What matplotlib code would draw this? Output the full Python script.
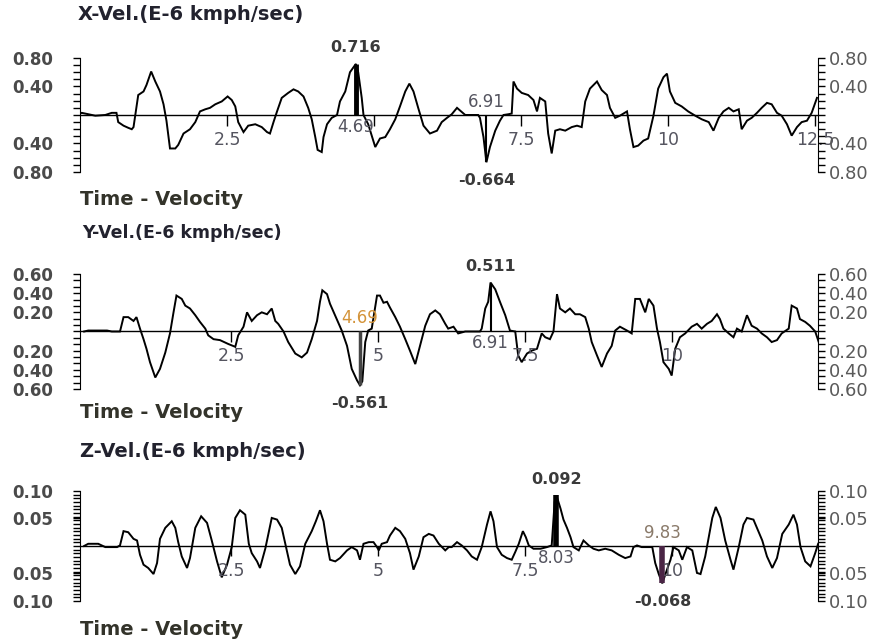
import numpy as np
import matplotlib.pyplot as plt

# ---- X velocity (time in s, value in E-6 kmph/sec) ----
x_t = [0.0, 0.03, 0.26, 0.43, 0.54, 0.62, 0.65, 0.74, 0.82, 0.88,
       0.91, 0.94, 0.99, 1.08, 1.13, 1.21, 1.28, 1.36, 1.42, 1.47,
       1.53, 1.62, 1.67, 1.76, 1.87, 1.96, 2.04, 2.13, 2.21, 2.30,
       2.41, 2.51, 2.58, 2.64, 2.69, 2.78, 2.86, 2.98, 3.09, 3.18,
       3.23, 3.29, 3.35, 3.43, 3.54, 3.63, 3.71, 3.80, 3.88, 3.94,
       4.00, 4.04, 4.11, 4.14, 4.20, 4.28, 4.37, 4.42, 4.51, 4.59,
       4.69, 4.73, 4.79, 4.82, 4.90, 5.02, 5.10, 5.19, 5.27, 5.36,
       5.44, 5.53, 5.60, 5.67, 5.75, 5.84, 5.95, 6.07, 6.15, 6.24,
       6.32, 6.41, 6.55, 6.77, 6.80, 6.86, 6.91, 6.97, 7.06, 7.14,
       7.20, 7.28, 7.34, 7.37, 7.43, 7.51, 7.62, 7.71, 7.77, 7.82,
       7.91, 7.96, 8.02, 8.08, 8.16, 8.25, 8.36, 8.45, 8.53, 8.59,
       8.67, 8.79, 8.87, 8.96, 9.01, 9.10, 9.18, 9.30, 9.35, 9.41,
       9.49, 9.58, 9.66, 9.75, 9.83, 9.92, 9.98, 10.03, 10.12, 10.23,
       10.34, 10.46, 10.57, 10.69, 10.77, 10.86, 10.94, 11.03, 11.11, 11.20,
       11.25, 11.34, 11.42, 11.51, 11.59, 11.68, 11.76, 11.85, 11.93, 12.02,
       12.10, 12.19, 12.27, 12.36, 12.44, 12.53]
x_v = [0.02, 0.03, -0.01, 0.0, 0.03, 0.03, -0.10, -0.15, -0.18, -0.20,
       -0.17, 0.0, 0.28, 0.33, 0.42, 0.61, 0.47, 0.33, 0.15, -0.08,
       -0.47, -0.47, -0.42, -0.26, -0.20, -0.10, 0.05, 0.08, 0.10, 0.15,
       0.19, 0.26, 0.21, 0.12, -0.10, -0.24, -0.15, -0.13, -0.17, -0.24,
       -0.26, -0.10, 0.05, 0.24, 0.31, 0.36, 0.33, 0.26, 0.10, -0.06,
       -0.31, -0.49, -0.52, -0.31, -0.13, -0.04, 0.0, 0.19, 0.33, 0.60,
       0.716, 0.60, 0.24, 0.0, -0.13, -0.45, -0.33, -0.31, -0.20, -0.06,
       0.12, 0.33, 0.44, 0.33, 0.10, -0.15, -0.26, -0.22, -0.10, -0.04,
       0.01, 0.10, 0.0, 0.0, -0.04, -0.31, -0.664, -0.45, -0.22, -0.08,
       0.0, 0.01, 0.02, 0.47, 0.37, 0.31, 0.28, 0.21, 0.05, 0.24,
       0.19, -0.26, -0.54, -0.22, -0.20, -0.22, -0.17, -0.15, -0.17, 0.19,
       0.37, 0.47, 0.35, 0.28, 0.10, -0.04, -0.01, 0.05, -0.20, -0.45,
       -0.43, -0.36, -0.33, -0.01, 0.37, 0.53, 0.58, 0.33, 0.17, 0.12,
       0.05, -0.01, -0.06, -0.10, -0.22, -0.04, 0.05, 0.10, 0.05, 0.08,
       -0.20, -0.08, -0.04, 0.03, 0.10, 0.17, 0.15, 0.03, -0.01, -0.13,
       -0.29, -0.17, -0.10, -0.08, 0.03, 0.24]

# ---- Y velocity ----
y_t = [0.0, 0.07, 0.19, 0.39, 0.47, 0.61, 0.67, 0.75, 0.84, 0.89,
       0.95, 1.01, 1.06, 1.12, 1.21, 1.29, 1.38, 1.46, 1.52, 1.57,
       1.66, 1.72, 1.80, 1.89, 1.97, 2.06, 2.11, 2.20, 2.31, 2.45,
       2.57, 2.62, 2.71, 2.77, 2.85, 2.94, 3.02, 3.11, 3.19, 3.25,
       3.30, 3.39, 3.47, 3.59, 3.70, 3.79, 3.87, 3.96, 4.01, 4.05,
       4.13, 4.18, 4.38, 4.47, 4.55, 4.64, 4.69, 4.73, 4.78, 4.83,
       4.89, 4.98, 5.03, 5.09, 5.15, 5.20, 5.29, 5.37, 5.46, 5.54,
       5.63, 5.71, 5.80, 5.88, 5.97, 6.05, 6.14, 6.19, 6.28, 6.36,
       6.48, 6.73, 6.76, 6.82, 6.87, 6.91, 6.99, 7.07, 7.16, 7.24,
       7.33, 7.38, 7.44, 7.53, 7.61, 7.70, 7.78, 7.84, 7.92, 7.98,
       8.04, 8.09, 8.18, 8.26, 8.35, 8.43, 8.52, 8.58, 8.63, 8.72,
       8.80, 8.89, 8.97, 9.03, 9.11, 9.23, 9.31, 9.37, 9.45, 9.54,
       9.60, 9.68, 9.74, 9.79, 9.85, 9.94, 9.99, 10.05, 10.13, 10.22,
       10.33, 10.42, 10.50, 10.59, 10.67, 10.76, 10.81, 10.87, 10.96, 11.04,
       11.10, 11.18, 11.27, 11.35, 11.44, 11.52, 11.61, 11.69, 11.78, 11.86,
       11.98, 12.03, 12.12, 12.17, 12.26, 12.34, 12.43, 12.49]
y_v = [0.0, 0.01, 0.01, 0.01, 0.0, 0.0, 0.15, 0.15, 0.11, 0.15,
       0.03, -0.08, -0.18, -0.32, -0.48, -0.39, -0.22, -0.02, 0.20, 0.375,
       0.34, 0.27, 0.24, 0.17, 0.10, 0.03, -0.04, -0.08, -0.09, -0.13,
       -0.16, -0.04, 0.05, 0.20, 0.11, 0.17, 0.20, 0.18, 0.24, 0.11,
       0.08, 0.0, -0.11, -0.23, -0.27, -0.22, -0.08, 0.11, 0.31, 0.43,
       0.39, 0.29, 0.01, -0.15, -0.39, -0.51, -0.561, -0.52, -0.11, 0.01,
       0.03, 0.375, 0.375, 0.30, 0.31, 0.25, 0.15, 0.05, -0.08, -0.20,
       -0.34, -0.15, 0.06, 0.18, 0.22, 0.18, 0.08, 0.03, 0.05, -0.02,
       0.0, 0.0, 0.03, 0.24, 0.31, 0.511, 0.44, 0.31, 0.17, 0.01,
       0.0, -0.25, -0.32, -0.23, -0.20, -0.18, -0.02, -0.06, -0.08, 0.0,
       0.39, 0.24, 0.20, 0.24, 0.18, 0.18, 0.15, 0.03, -0.11, -0.25,
       -0.37, -0.23, -0.15, 0.01, 0.05, 0.01, -0.02, 0.34, 0.34, 0.20,
       0.34, 0.27, 0.03, -0.11, -0.32, -0.39, -0.46, -0.18, -0.06, -0.02,
       0.05, 0.08, 0.03, 0.08, 0.11, 0.18, 0.13, 0.03, -0.02, -0.06,
       0.03, 0.0, 0.17, 0.06, 0.03, -0.02, -0.06, -0.11, -0.09, -0.02,
       0.03, 0.27, 0.24, 0.13, 0.10, 0.06, 0.0, -0.11]

# ---- Z velocity ----
z_t = [0.0, 0.07, 0.24, 0.36, 0.56, 0.61, 0.67, 0.75, 0.84, 0.90,
       0.95, 1.01, 1.09, 1.18, 1.24, 1.29, 1.38, 1.49, 1.55, 1.60,
       1.66, 1.75, 1.80, 1.89, 1.99, 2.09, 2.17, 2.26, 2.34, 2.43,
       2.51, 2.57, 2.65, 2.74, 2.80, 2.85, 2.94, 2.99, 3.08, 3.19,
       3.28, 3.36, 3.42, 3.50, 3.59, 3.67, 3.76, 3.87, 3.94, 4.01,
       4.07, 4.13, 4.18, 4.27, 4.35, 4.47, 4.55, 4.64, 4.69, 4.75,
       4.84, 4.92, 4.98, 5.01, 5.06, 5.15, 5.20, 5.29, 5.37, 5.46,
       5.54, 5.60, 5.69, 5.77, 5.86, 5.94, 6.03, 6.14, 6.20, 6.25,
       6.34, 6.42, 6.51, 6.59, 6.68, 6.76, 6.85, 6.91, 6.96, 7.02,
       7.10, 7.19, 7.27, 7.33, 7.39, 7.46, 7.51, 7.56, 7.64, 7.76,
       7.87, 7.95, 8.00, 8.03, 8.10, 8.15, 8.21, 8.27, 8.32, 8.41,
       8.49, 8.58, 8.66, 8.75, 8.86, 8.97, 9.09, 9.20, 9.29, 9.34,
       9.40, 9.48, 9.66, 9.71, 9.77, 9.83, 9.91, 9.97, 10.02, 10.11,
       10.17, 10.25, 10.34, 10.42, 10.48, 10.56, 10.62, 10.68, 10.74, 10.82,
       10.90, 10.99, 11.04, 11.13, 11.21, 11.27, 11.38, 11.44, 11.53, 11.61,
       11.70, 11.78, 11.87, 11.98, 12.06, 12.12, 12.18, 12.26, 12.35, 12.43,
       12.48]
z_v = [0.0, 0.004, 0.004, -0.002, -0.002, 0.001, 0.027, 0.025, 0.013, 0.01,
       -0.016, -0.034, -0.04, -0.051, -0.031, 0.013, 0.033, 0.045, 0.033, 0.007,
       -0.019, -0.04, -0.022, 0.033, 0.054, 0.042, 0.01, -0.028, -0.057, -0.034,
       -0.002, 0.051, 0.065, 0.057, 0.004, -0.013, -0.028, -0.04, -0.005, 0.051,
       0.048, 0.033, 0.004, -0.034, -0.051, -0.037, 0.004, 0.027, 0.045, 0.065,
       0.045, 0.004, -0.025, -0.028, -0.022, -0.008, -0.002, -0.008, -0.025, 0.004,
       0.007, 0.007, -0.002, -0.008, 0.004, 0.007, 0.019, 0.033, 0.027, 0.013,
       -0.013, -0.043, -0.019, 0.016, 0.022, 0.019, 0.004, -0.008, -0.002, -0.002,
       0.007, 0.001, -0.008, -0.019, -0.025, -0.002, 0.039, 0.063, 0.045, -0.002,
       -0.016, -0.022, -0.025, -0.011, 0.004, 0.027, 0.016, 0.001, -0.005, -0.005,
       -0.002, 0.001, 0.08, 0.092, 0.068, 0.048, 0.033, 0.016, -0.002, -0.008,
       0.01, 0.001, -0.005, -0.008, -0.005, -0.008, -0.016, -0.022, -0.019, -0.002,
       0.001, -0.002, -0.002, -0.031, -0.051, -0.068, -0.043, -0.025, -0.002, -0.008,
       -0.025, -0.002, -0.008, -0.049, -0.051, -0.019, 0.016, 0.051, 0.071, 0.051,
       0.01, -0.025, -0.043, -0.002, 0.039, 0.051, 0.048, 0.033, 0.01, -0.019,
       -0.04, -0.022, 0.022, 0.039, 0.057, 0.039, -0.002, -0.028, -0.037, -0.013,
       0.004]

time_ticks = [2.5, 5, 7.5, 10, 12.5]
x_time_labels = ["2.5", "", "7.5", "10", "12.5"]   # the 5 is hidden under the curve
yz_time_labels = ["2.5", "5", "7.5", "10", "12.5"]

x_yticks = [0.8, 0.4, -0.4, -0.8]
x_ylabels = ["0.80", "0.40", "0.40", "0.80"]
y_yticks = [0.6, 0.4, 0.2, -0.2, -0.4, -0.6]
y_ylabels = ["0.60", "0.40", "0.20", "0.20", "0.40", "0.60"]
z_yticks = [0.1, 0.05, -0.05, -0.1]
z_ylabels = ["0.10", "0.05", "0.05", "0.10"]

# (time, value) of max and min
x_max, x_min = (4.69, 0.716), (6.91, -0.664)
y_max, y_min = (6.91, 0.511), (4.69, -0.561)
z_max, z_min = (8.03, 0.092), (9.83, -0.068)

GREY = "#555560"

fig = plt.figure(figsize=(8.84, 6.42), dpi=100)


def panel(rect, t, v, lim, minor, yticks, ylabels, xlim, tlabels,
          vmax, vmin, wmax, wmin, cmin="black", tcol_min=GREY, tcol_max=GREY):
    ax = fig.add_axes(rect)
    ax.plot(t, v, color="black", lw=1.4, solid_joinstyle="miter")
    ax.axhline(0, color="black", lw=1.0)
    ax.set_xlim(xlim)
    ax.set_ylim(-lim, lim)

    # extreme value bars
    ax.vlines(vmax[0], 0, vmax[1], color="black", lw=wmax)
    ax.vlines(vmin[0], 0, vmin[1], color=cmin, lw=wmin)

    # time ticks drawn on the zero line
    for tt, lb in zip(time_ticks, tlabels):
        ax.vlines(tt, -lim * 0.19, 0, color="black", lw=1.0)
        ax.annotate(lb, (tt, 0), xytext=(0, -25), textcoords="offset pixels",
                    ha="center", va="center", fontsize=12.5, color=GREY)

    # labels of max / min
    ax.annotate("%.3f" % vmax[1], vmax, xytext=(0, 16), textcoords="offset pixels",
                ha="center", va="center", fontsize=11.5, fontweight="bold",
                color="#3a3a3a", annotation_clip=False)
    ax.annotate("%.3f" % vmin[1], vmin, xytext=(0, -18), textcoords="offset pixels",
                ha="center", va="center", fontsize=11.5, fontweight="bold",
                color="#3a3a3a", annotation_clip=False)
    ax.annotate("%.2f" % vmax[0], (vmax[0], 0), xytext=(0, -12), textcoords="offset pixels",
                ha="center", va="center", fontsize=12, color=tcol_max)
    ax.annotate("%.2f" % vmin[0], (vmin[0], 0), xytext=(0, 13), textcoords="offset pixels",
                ha="center", va="center", fontsize=12, color=tcol_min)

    ax.set_xticks([])
    ax.spines["top"].set_visible(False)
    ax.spines["bottom"].set_visible(False)
    ax.spines["right"].set_visible(False)
    ax.spines["left"].set_bounds(-lim, lim)
    ax.set_yticks(yticks)
    ax.set_yticklabels(ylabels)
    ax.set_yticks(np.arange(-lim, lim + minor / 2, minor), minor=True)
    ax.tick_params(axis="y", which="both", direction="out", length=5, width=1,
                   pad=14, labelsize=12, labelcolor="#4a4a4a")
    for lb in ax.get_yticklabels():
        lb.set_fontweight("bold")

    ax2 = ax.twinx()
    ax2.set_ylim(-lim, lim)
    for s in ["top", "bottom", "left"]:
        ax2.spines[s].set_visible(False)
    ax2.spines["right"].set_bounds(-lim, lim)
    ax2.set_yticks(yticks)
    ax2.set_yticklabels(ylabels)
    ax2.set_yticks(np.arange(-lim, lim + minor / 2, minor), minor=True)
    ax2.tick_params(axis="y", which="both", direction="out", length=5, width=1,
                    pad=3, labelsize=13, labelcolor="#5a5a5a")
    return ax


panel([0.0905, 0.7321, 0.835, 0.1776], x_t, x_v, 0.8, 0.1, x_yticks, x_ylabels,
      (0, 12.55), x_time_labels, x_max, x_min, 3.5, 1.5)
panel([0.0905, 0.3941, 0.835, 0.1791], y_t, y_v, 0.6, 0.2 / 3, y_yticks, y_ylabels,
      (-0.07, 12.48), yz_time_labels, y_max, y_min, 1.5, 2.5, cmin="#444444",
      tcol_min="#d4943a")
panel([0.0905, 0.0639, 0.835, 0.1713], z_t, z_v, 0.1, 0.1 / 15, z_yticks, z_ylabels,
      (-0.07, 12.48), yz_time_labels, z_max, z_min, 4, 4, cmin="#4a2545",
      tcol_min="#8a7a6a")

title_kw = dict(fontweight="bold", color="#22222e", va="center", ha="left")
fig.text(0.088, 0.977, "X-Vel.(E-6 kmph/sec)", fontsize=14, **title_kw)
fig.text(0.093, 0.637, "Y-Vel.(E-6 kmph/sec)", fontsize=12.5, **title_kw)
fig.text(0.090, 0.296, "Z-Vel.(E-6 kmph/sec)", fontsize=14, **title_kw)

tv_kw = dict(fontweight="bold", color="#33332a", va="center", ha="left", fontsize=14)
fig.text(0.090, 0.690, "Time - Velocity", **tv_kw)
fig.text(0.090, 0.357, "Time - Velocity", **tv_kw)
fig.text(0.090, 0.020, "Time - Velocity", **tv_kw)

fig.savefig("out.png", dpi=100)
